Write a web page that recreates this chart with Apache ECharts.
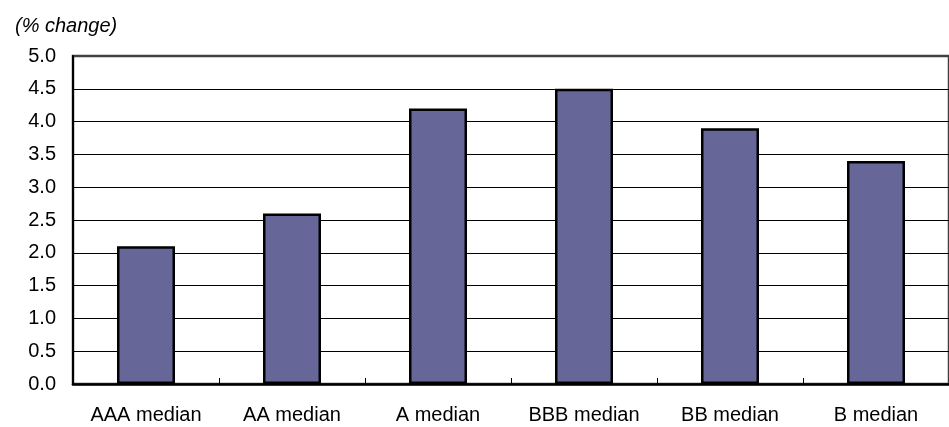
<!DOCTYPE html>
<html>
<head>
<meta charset="utf-8">
<script src="https://cdn.jsdelivr.net/npm/echarts@6/dist/echarts.min.js"></script>
<style>
    html, body { margin: 0; padding: 0; background: #fff; }
    #main { width: 949px; height: 427px; }
</style>
</head>
<body>
<div id="main"></div>
<script>
// 数据
const categories = ['AAA median', 'AA median', 'A median', 'BBB median', 'BB median', 'B median'];
const medianChange = [2.1, 2.6, 4.2, 4.5, 3.9, 3.4];
const unitLabel = '(% change)';

const fontFamily = 'Arial, "Liberation Sans", sans-serif';

const myChart = echarts.init(document.getElementById('main'), null, { renderer: 'canvas' });

const option = {
    animation: false,
    title: {
        text: unitLabel,
        left: 10,
        top: 11,
        textStyle: {
            color: '#000',
            fontSize: 20,
            fontStyle: 'italic',
            fontWeight: 'normal',
            fontFamily: fontFamily
        }
    },
    grid: {
        left: 73,
        top: 56,
        right: -6,
        bottom: 43,
        show: true,
        borderColor: '#404040',
        borderWidth: 2.5,
        backgroundColor: '#fff'
    },
    xAxis: {
        type: 'category',
        data: categories,
        axisLine: { lineStyle: { color: '#000', width: 2.5 } },
        axisTick: { show: true, inside: true, length: 6, lineStyle: { color: '#000', width: 1 } },
        axisLabel: {
            color: '#000',
            fontSize: 20,
            fontFamily: fontFamily,
            margin: 21,
            interval: 0
        }
    },
    yAxis: {
        type: 'value',
        min: 0,
        max: 5,
        interval: 0.5,
        axisLine: { show: true, lineStyle: { color: '#000', width: 2 } },
        axisTick: { show: false },
        axisLabel: {
            color: '#000',
            fontSize: 20,
            fontFamily: fontFamily,
            margin: 17,
            formatter: v => v.toFixed(1)
        },
        splitLine: { show: true, showMaxLine: false, lineStyle: { color: '#000', width: 1 } }
    },
    series: [
        {
            type: 'bar',
            data: medianChange,
            barWidth: 58,
            itemStyle: {
                color: '#666699',
                borderColor: '#000',
                borderWidth: 2.5
            }
        }
    ]
};

myChart.setOption(option);
</script>
</body>
</html>
